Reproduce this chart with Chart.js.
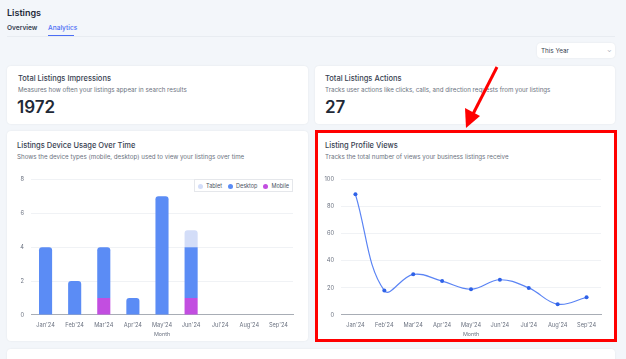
<!DOCTYPE html>
<html>
<head>
<meta charset="utf-8">
<script src="https://cdn.jsdelivr.net/npm/chart.js@4.4.1/dist/chart.umd.min.js"></script>
<style>
  body { margin: 0; width: 626px; height: 359px; background: #f3f6fa; font-family: Inter, "Noto Sans", sans-serif; overflow: hidden; position: relative; }
  .abs { position: absolute; }
  .card { position: absolute; background: #fff; border-radius: 4px; box-shadow: 0 0 2px rgba(0,0,0,0.08); }
  .ttl { position: absolute; font-size: 7.5px; font-weight: 500; color: #374151; white-space: nowrap; }
  .sub { position: absolute; font-size: 6.2px; color: #6b7280; white-space: nowrap; }
  .big { position: absolute; font-size: 17px; font-weight: 600; color: #1f2937; }
  .legend { position: absolute; left: 194px; top: 179px; width: 97px; height: 11px; background: #fff; border: 1px solid #e5e7eb; display: flex; align-items: center; justify-content: space-around; font-size: 5.5px; color: #4b5563; }
  .legend span.d { display: inline-block; width: 5px; height: 5px; border-radius: 50%; margin-right: 3px; vertical-align: -1px; }
</style>
</head>
<body>
<div class="abs" style="left:7px;top:7px;font-size:9px;font-weight:600;color:#1f2937;">Listings</div>
<div class="abs" style="left:7px;top:24px;font-size:6.6px;font-weight:600;color:#374151;">Overview</div>
<div class="abs" style="left:48px;top:24px;font-size:6.6px;font-weight:500;color:#4c6ef5;">Analytics</div>
<div class="abs" style="left:7px;top:36px;width:608px;height:1px;background:#e8ecf1;"></div>
<div class="abs" style="left:48px;top:35px;width:26px;height:1px;background:#4c6ef5;"></div>

<div class="card" style="left:537px;top:43px;width:78px;height:15px;">
  <div class="abs" style="left:4px;top:4px;font-size:6.3px;color:#374151;">This Year</div>
  <div class="abs" style="left:70px;top:3px;font-size:6px;color:#9ca3af;">&#8964;</div>
</div>

<div class="card" style="left:7px;top:66px;width:301px;height:58px;">
  <div class="ttl" style="left:11px;top:8px;">Total Listings Impressions</div>
  <div class="sub" style="left:11px;top:20px;">Measures how often your listings appear in search results</div>
  <div class="big" style="left:10px;top:31px;">1972</div>
</div>
<div class="card" style="left:315px;top:66px;width:300px;height:58px;">
  <div class="ttl" style="left:10px;top:8px;">Total Listings Actions</div>
  <div class="sub" style="left:10px;top:20px;">Tracks user actions like clicks, calls, and direction requests from your listings</div>
  <div class="big" style="left:10px;top:31px;">27</div>
</div>

<div class="card" style="left:7px;top:131px;width:301px;height:210px;">
  <div class="ttl" style="left:10px;top:10px;">Listings Device Usage Over Time</div>
  <div class="sub" style="left:10px;top:22px;">Shows the device types (mobile, desktop) used to view your listings over time</div>
</div>
<div class="abs" style="left:12px;top:169px;width:288px;height:170px;"><canvas id="deviceChart"></canvas></div>
<div class="legend">
  <div><span class="d" style="background:#d3ddf8"></span>Tablet</div>
  <div><span class="d" style="background:#5b8cf5"></span>Desktop</div>
  <div><span class="d" style="background:#c24ee0"></span>Mobile</div>
</div>

<div class="card" style="left:316px;top:131px;width:299px;height:210px;">
  <div class="ttl" style="left:9px;top:10px;">Listing Profile Views</div>
  <div class="sub" style="left:9px;top:22px;">Tracks the total number of views your business listings receive</div>
</div>
<div class="abs" style="left:322px;top:169px;width:286px;height:170px;"><canvas id="viewsChart"></canvas></div>
<div class="abs" style="left:315px;top:130px;width:296px;height:206px;border:3px solid #f00;"></div>

<svg class="abs" style="left:0;top:0;" width="626" height="359">
  <line x1="497" y1="67" x2="473" y2="114" stroke="#f00" stroke-width="3"/>
  <polygon points="466,128 465,108 480,116" fill="#f00"/>
</svg>

<div class="card" style="left:7px;top:349px;width:608px;height:20px;"></div>

<script>
var months = ["Jan'24", "Feb'24", "Mar'24", "Apr'24", "May'24", "Jun'24", "Jul'24", "Aug'24", "Sep'24"];
var mobile  = [0, 0, 1, 0, 0, 1, 0, 0, 0];
var desktop = [4, 2, 3, 1, 7, 3, 0, 0, 0];
var tablet  = [0, 0, 0, 0, 0, 1, 0, 0, 0];
var views = [89, 18, 30, 25, 19, 26, 20, 8, 13];

Chart.defaults.font.family = 'Inter, "Noto Sans", sans-serif';
Chart.defaults.font.size = 5.7;
Chart.defaults.color = '#6b7280';

function xScale() {
    return {
        offset: true,
        grid: { display: false, drawTicks: false },
        border: { color: '#a8adb5' },
        ticks: { padding: 7, maxRotation: 0, autoSkip: false },
        title: { display: true, text: 'Month', font: { size: 5.4 }, padding: 1 },
        afterFit: function (s) { s.height = 24; }
    };
}

const deviceChart = new Chart(document.getElementById('deviceChart'), {
    type: 'bar',
    data: {
        labels: months,
        datasets: [
            { label: 'Mobile', data: mobile, backgroundColor: '#c24ee0', borderRadius: 3, borderSkipped: 'start' },
            { label: 'Desktop', data: desktop, backgroundColor: '#5b8cf5', borderRadius: 3, borderSkipped: 'start' },
            { label: 'Tablet', data: tablet, backgroundColor: '#d3ddf8', borderRadius: 3, borderSkipped: 'start' }
        ]
    },
    options: {
        responsive: true,
        maintainAspectRatio: false,
        animation: false,
        layout: { padding: { top: 4, right: 7, left: 0, bottom: 0 } },
        plugins: { legend: { display: false }, tooltip: { enabled: false } },
        datasets: { bar: { categoryPercentage: 1, barPercentage: 0.45 } },
        scales: {
            x: Object.assign(xScale(), { stacked: true }),
            y: {
                stacked: true, min: 0, max: 8,
                ticks: { stepSize: 2, padding: 7 },
                grid: { color: '#f0f2f5', drawTicks: false },
                border: { display: false },
                afterFit: function (s) { s.width = 19; }
            }
        }
    }
});

const viewsChart = new Chart(document.getElementById('viewsChart'), {
    type: 'line',
    data: {
        labels: months,
        datasets: [{
            label: 'Views',
            data: views,
            borderColor: '#5b84f4',
            borderWidth: 1.2,
            backgroundColor: '#2f62e8',
            pointBackgroundColor: '#2f62e8',
            pointBorderWidth: 0,
            pointRadius: 2,
            tension: 0.4,
            fill: false
        }]
    },
    options: {
        responsive: true,
        maintainAspectRatio: false,
        animation: false,
        layout: { padding: { top: 4, right: 7, left: 0, bottom: 0 } },
        plugins: { legend: { display: false }, tooltip: { enabled: false } },
        scales: {
            x: xScale(),
            y: {
                min: 0, max: 100,
                ticks: { stepSize: 20, padding: 7 },
                grid: { color: '#f0f2f5', drawTicks: false },
                border: { display: false },
                afterFit: function (s) { s.width = 19; }
            }
        }
    }
});
</script>
</body>
</html>
